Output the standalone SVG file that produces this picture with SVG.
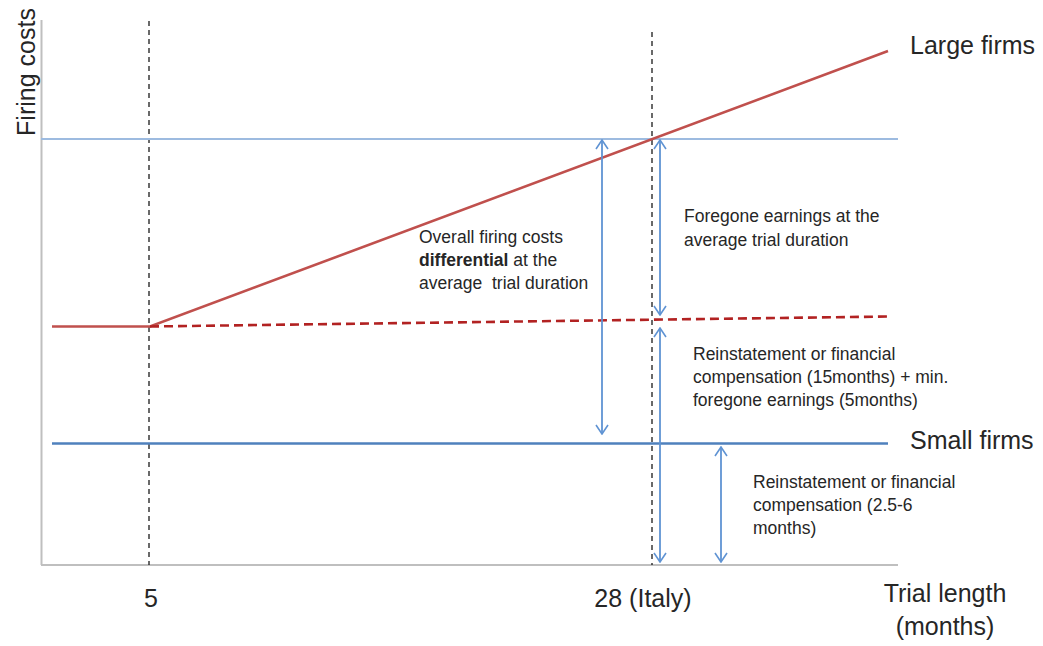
<svg xmlns="http://www.w3.org/2000/svg" width="1043" height="646" viewBox="0 0 1043 646">
<style>
text{font-family:"Liberation Sans",Arial,sans-serif;fill:#262626}
.big{font-size:25px}
.small{font-size:17.5px}
.axis{stroke:#BFBFBF;stroke-width:2;fill:none}
.vdash{stroke:#1a1a1a;stroke-width:1.3;stroke-dasharray:5,4;fill:none}
.arrow{stroke:#5F93D3;stroke-width:1.8;fill:none;marker-start:url(#ah);marker-end:url(#ah)}
</style>
<defs>
<marker id="ah" viewBox="-11 -8 12 16" refX="0" refY="0" markerWidth="12" markerHeight="16" markerUnits="userSpaceOnUse" orient="auto-start-reverse">
<path d="M-9,-6 L0,0 L-9,6" fill="none" stroke="#5F93D3" stroke-width="1.6"/>
</marker>
</defs>
<rect width="1043" height="646" fill="#ffffff"/>
<g id="axes">
<line class="axis" x1="41.5" y1="20" x2="41.5" y2="565"/>
<line class="axis" x1="41" y1="565" x2="898" y2="565"/>
</g>
<g id="guides">
<line class="vdash" x1="149" y1="21" x2="149" y2="565"/>
<line class="vdash" x1="652" y1="32" x2="652" y2="565"/>
</g>
<g id="connectors">
<line id="large-level" x1="41" y1="139" x2="898" y2="139" stroke="#9DBBE0" stroke-width="2.2"/>
<line id="small-level" x1="52" y1="443.5" x2="888" y2="443.5" stroke="#4F81BD" stroke-width="2.6"/>
<polyline id="large-cost" points="52,326.5 150,326.5 888,51" fill="none" stroke="#C0504D" stroke-width="2.6"/>
<line id="dashed-cost" x1="150" y1="326.5" x2="888" y2="316.5" stroke="#B22222" stroke-width="2.6" stroke-dasharray="9,5"/>
<line class="arrow" x1="602" y1="140" x2="602" y2="434"/>
<line class="arrow" x1="660" y1="140" x2="660" y2="315"/>
<line class="arrow" x1="660" y1="328" x2="660" y2="562"/>
<line class="arrow" x1="721" y1="447" x2="721" y2="562"/>
</g>
<g id="label-firing-costs"><text class="big" transform="translate(35,72) rotate(-90)" text-anchor="middle">Firing costs</text></g>
<g id="label-large"><text class="big" x="910" y="54">Large firms</text></g>
<g id="label-small"><text class="big" x="910" y="449">Small firms</text></g>
<g id="label-5"><text class="big" x="151" y="607" text-anchor="middle">5</text></g>
<g id="label-28"><text class="big" x="643" y="607" text-anchor="middle">28 (Italy)</text></g>
<g id="label-trial"><text class="big" x="945" y="602" text-anchor="middle">Trial length</text><text class="big" x="945" y="635" text-anchor="middle">(months)</text></g>
<g id="note-overall">
<text class="small" x="419" y="243">Overall firing costs</text>
<text class="small" x="419" y="266"><tspan font-weight="bold">differential</tspan> at the</text>
<text class="small" x="419" y="289">average&#160; trial duration</text>
</g>
<g id="note-foregone">
<text class="small" x="684" y="222">Foregone earnings at the</text>
<text class="small" x="684" y="246">average trial duration</text>
</g>
<g id="note-reinstatement-large">
<text class="small" x="693" y="360">Reinstatement or financial</text>
<text class="small" x="693" y="383">compensation (15months) + min.</text>
<text class="small" x="693" y="406">foregone earnings (5months)</text>
</g>
<g id="note-reinstatement-small">
<text class="small" x="753" y="488">Reinstatement or financial</text>
<text class="small" x="753" y="511">compensation (2.5-6</text>
<text class="small" x="753" y="534">months)</text>
</g>
</svg>
